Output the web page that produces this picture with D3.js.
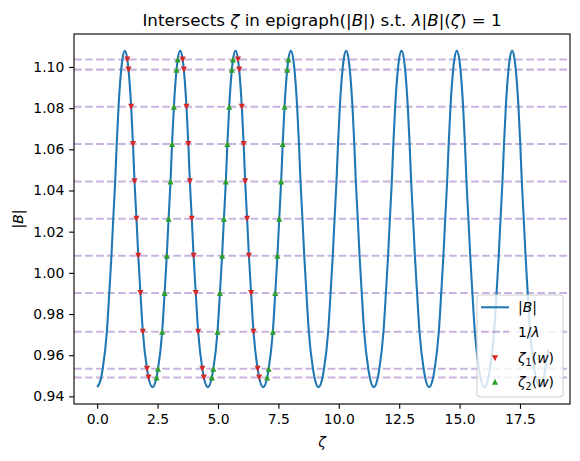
<!DOCTYPE html>
<html><head><meta charset="utf-8">
<script src="https://cdn.jsdelivr.net/npm/d3@7/dist/d3.min.js"></script>
<style>
body{margin:0;background:#fff}
svg{display:block}
text{font-family:"DejaVu Sans",sans-serif;fill:#000}
</style>
</head><body>
<svg id="chart" width="580" height="461"></svg>
<script>
// ---- data ----
const levels = [0.9492, 0.9534, 0.9714, 0.9902, 1.0083, 1.0263, 1.0444, 1.0626, 1.0807, 1.0987, 1.1036];
const minima = [[0,0.9445],[2.29,0.9445],[4.58,0.9445],[6.87,0.9445],[9.16,0.9445],[11.45,0.9445],[13.74,0.9445],[16.03,0.9445],[18.32,0.9445]];
const peaks = [[1.145,1.1078],[3.435,1.1078],[5.725,1.1078],[8.015,1.1078],[10.305,1.1078],[12.595,1.1078],[14.885,1.1078],[17.175,1.1078]];
// crossings of |B| with each level: descending side (before each minimum 1..8)
const descending = [
  [2.125,2.062,1.89,1.79,1.70,1.625,1.545,1.482,1.406,1.296,1.248],
  [4.415,4.352,4.18,4.08,3.99,3.915,3.835,3.772,3.696,3.586,3.538],
  [6.705,6.642,6.47,6.37,6.28,6.205,6.125,6.062,5.986,5.876,5.828],
  [8.995,8.932,8.76,8.66,8.57,8.495,8.415,8.352,8.276,8.166,8.118],
  [11.285,11.222,11.05,10.95,10.86,10.785,10.705,10.642,10.566,10.456,10.408],
  [13.575,13.512,13.34,13.24,13.15,13.075,12.995,12.932,12.856,12.746,12.698],
  [15.865,15.802,15.63,15.53,15.44,15.365,15.285,15.222,15.146,15.036,14.988],
  [18.155,18.092,17.92,17.82,17.73,17.655,17.575,17.512,17.436,17.326,17.278]
];
// ascending side (after each minimum 0..7)
const ascending = [
  [0.165,0.228,0.40,0.50,0.59,0.665,0.745,0.808,0.884,0.994,1.042],
  [2.455,2.518,2.69,2.79,2.88,2.955,3.035,3.098,3.174,3.284,3.332],
  [4.745,4.808,4.98,5.08,5.17,5.245,5.325,5.388,5.464,5.574,5.622],
  [7.035,7.098,7.27,7.37,7.46,7.535,7.615,7.678,7.754,7.864,7.912],
  [9.325,9.388,9.56,9.66,9.75,9.825,9.905,9.968,10.044,10.154,10.202],
  [11.615,11.678,11.85,11.95,12.04,12.115,12.195,12.258,12.334,12.444,12.492],
  [13.905,13.968,14.14,14.24,14.33,14.405,14.485,14.548,14.624,14.734,14.782],
  [16.195,16.258,16.43,16.53,16.62,16.695,16.775,16.838,16.914,17.024,17.072]
];
const tail = [[18.485,0.9492],[18.548,0.9534],[18.67,0.963]];
// wells whose intersections are marked (index of minimum)
const markedWells = [1, 2, 3];
const xTicks = [0, 2.5, 5, 7.5, 10, 12.5, 15, 17.5];
const yTicks = [0.94, 0.96, 0.98, 1.00, 1.02, 1.04, 1.06, 1.08, 1.10];

// ---- build ----
const svg = d3.select("#chart");
const L = 74, R = 570, T = 34, B = 404;
const x = d3.scaleLinear().domain([-0.96, 19.57]).range([L, R]);
const y = d3.scaleLinear().domain([0.9363, 1.1160]).range([B, T]);

const curvePts = [...minima, ...peaks, ...tail];
descending.forEach(arr => arr.forEach((z, i) => curvePts.push([z, levels[i]])));
ascending.forEach(arr => arr.forEach((z, i) => curvePts.push([z, levels[i]])));
curvePts.sort((a, b) => a[0] - b[0]);

const zeta1 = [], zeta2 = [];
markedWells.forEach(w => {
  descending[w - 1].forEach((z, i) => zeta1.push([z, levels[i]]));
  ascending[w].forEach((z, i) => zeta2.push([z, levels[i]]));
});

const plot = svg.append("g");
// dashed level lines
plot.selectAll("line.lvl").data(levels).join("line")
  .attr("x1", L).attr("x2", R)
  .attr("y1", d => y(d)).attr("y2", d => y(d))
  .attr("stroke", "#9467bd").attr("stroke-opacity", 0.5)
  .attr("stroke-width", 2.08).attr("stroke-dasharray", "7.7,3.33");
// |B| curve
plot.append("path").datum(curvePts)
  .attr("d", d3.line().x(d => x(d[0])).y(d => y(d[1])).curve(d3.curveMonotoneX))
  .attr("fill", "none").attr("stroke", "#1f77b4").attr("stroke-width", 2.08);

const h = 3.05;
const triDown = `M${-h},${-h}L${h},${-h}L0,${h}Z`;
const triUp = `M${-h},${h}L${h},${h}L0,${-h}Z`;
plot.selectAll("path.z1").data(zeta1).join("path")
  .attr("d", triDown).attr("fill", "#d62728")
  .attr("transform", d => `translate(${x(d[0])},${y(d[1])})`);
plot.selectAll("path.z2").data(zeta2).join("path")
  .attr("d", triUp).attr("fill", "#2ca02c")
  .attr("transform", d => `translate(${x(d[0])},${y(d[1])})`);

// axes
const fs = "13.9px";
const xa = svg.append("g").attr("transform", `translate(0,${B})`)
  .call(d3.axisBottom(x).tickValues(xTicks).tickFormat(d3.format(".1f")).tickSize(4.86).tickPadding(4.86));
const ya = svg.append("g").attr("transform", `translate(${L},0)`)
  .call(d3.axisLeft(y).tickValues(yTicks).tickFormat(d3.format(".2f")).tickSize(4.86).tickPadding(4.86));
[xa, ya].forEach(a => {
  a.select(".domain").remove();
  a.selectAll(".tick line").attr("stroke", "#000").attr("stroke-width", 1.11);
  a.selectAll(".tick text").attr("font-size", fs).attr("font-family", "DejaVu Sans").attr("fill", "#000");
});
svg.append("rect").attr("x", L).attr("y", T).attr("width", R - L).attr("height", B - T)
  .attr("fill", "none").attr("stroke", "#000").attr("stroke-width", 1.11);

// labels
const xl = svg.append("text").attr("x", (L + R) / 2).attr("y", 447).attr("text-anchor", "middle").attr("font-size", fs);
xl.append("tspan").attr("font-style", "italic").text("ζ");
const yl = svg.append("text").attr("transform", `translate(23,${(T + B) / 2}) rotate(-90)`)
  .attr("text-anchor", "middle").attr("font-size", fs);
yl.append("tspan").text("|");
yl.append("tspan").attr("font-style", "italic").text("B");
yl.append("tspan").text("|");

// title
const title = svg.append("text").attr("x", (L + R) / 2).attr("y", 25.7).attr("text-anchor", "middle").attr("font-size", "16.7px");
[["Intersects ", 0], ["ζ", 1], [" in epigraph(|", 0], ["B", 1], ["|) s.t. ", 0], ["λ", 1], ["|", 0], ["B", 1], ["|(", 0], ["ζ", 1], [") = 1", 0]]
  .forEach(([t, it]) => title.append("tspan").attr("font-style", it ? "italic" : "normal").text(t));

// legend
const lg = svg.append("g");
lg.append("rect").attr("x", 477).attr("y", 295).attr("width", 86).attr("height", 102).attr("rx", 3)
  .attr("fill", "#fff").attr("fill-opacity", 0.8).attr("stroke", "#cccccc").attr("stroke-width", 1);
const ly = [307.3, 331.7, 358.3, 381.7];
lg.append("line").attr("x1", 481).attr("x2", 509).attr("y1", ly[0]).attr("y2", ly[0])
  .attr("stroke", "#1f77b4").attr("stroke-width", 2.08);
lg.append("line").attr("x1", 481).attr("x2", 509).attr("y1", ly[1]).attr("y2", ly[1])
  .attr("stroke", "#9467bd").attr("stroke-opacity", 0.5).attr("stroke-width", 2.08).attr("stroke-dasharray", "7.7,3.33");
lg.append("path").attr("d", triDown).attr("fill", "#d62728").attr("transform", `translate(495,${ly[2]})`);
lg.append("path").attr("d", triUp).attr("fill", "#2ca02c").attr("transform", `translate(495,${ly[3]})`);
function legText(yc, parts) {
  const t = lg.append("text").attr("x", 518).attr("y", yc + 5).attr("font-size", fs);
  parts.forEach(([s, st]) => {
    const ts = t.append("tspan").text(s);
    if (st === "i") ts.attr("font-style", "italic");
    if (st === "sub") ts.attr("font-size", "9.7px").attr("dy", 3);
    if (st === "after") ts.attr("dy", -3);
  });
}
legText(ly[0], [["|", ""], ["B", "i"], ["|", ""]]);
legText(ly[1], [["1/", ""], ["λ", "i"]]);
legText(ly[2], [["ζ", "i"], ["1", "sub"], ["(", "after"], ["w", "i"], [")", ""]]);
legText(ly[3], [["ζ", "i"], ["2", "sub"], ["(", "after"], ["w", "i"], [")", ""]]);
</script>
</body></html>
